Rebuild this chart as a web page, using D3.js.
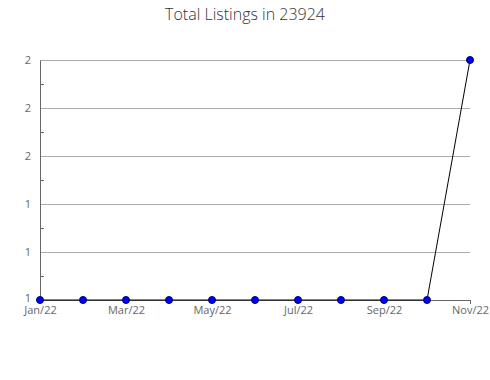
<!DOCTYPE html>
<html>
<head>
<meta charset="utf-8">
<script src="https://cdn.jsdelivr.net/npm/d3@7"></script>
<style>
  body { margin: 0; background: #fff; }
  text { font-family: "Open Sans", "DejaVu Sans", sans-serif; }
</style>
</head>
<body>
<div id="chart"></div>
<script>
// data
var months = ["Jan/22", "Feb/22", "Mar/22", "Apr/22", "May/22", "Jun/22",
              "Jul/22", "Aug/22", "Sep/22", "Oct/22", "Nov/22"];
var listings = [1, 1, 1, 1, 1, 1, 1, 1, 1, 1, 2];
var yTicks = [1, 1.2, 1.4, 1.6, 1.8, 2];

var svgWidth = 490, svgHeight = 380;
var margin = {top: 60, right: 20, bottom: 80, left: 40};
var width = svgWidth - margin.left - margin.right;
var height = svgHeight - margin.top - margin.bottom;

var svg = d3.select("#chart").append("svg")
    .attr("width", svgWidth)
    .attr("height", svgHeight);

svg.append("text")
    .attr("x", svgWidth / 2)
    .attr("y", 20)
    .attr("text-anchor", "middle")
    .attr("font-size", 16)
    .attr("font-weight", 300)
    .attr("fill", "#333")
    .text("Total Listings in 23924");

var chartGroup = svg.append("g")
    .attr("transform", `translate(${margin.left}, ${margin.top})`);

var x = d3.scalePoint()
    .domain(months)
    .range([0, width]);

var y = d3.scaleLinear()
    .domain([1, 2])
    .range([height, 0]);

// gridlines
chartGroup.append("g")
    .selectAll("line")
    .data(yTicks.slice(1))
    .enter()
    .append("line")
    .attr("x1", 0)
    .attr("x2", width)
    .attr("y1", d => Math.round(y(d)) + 0.5)
    .attr("y2", d => Math.round(y(d)) + 0.5)
    .attr("stroke", "#aaa")
    .attr("stroke-width", 1);

// minor ticks on y axis
var minor = d3.range(1.1, 2, 0.2);
chartGroup.append("g")
    .selectAll("line")
    .data(minor)
    .enter()
    .append("line")
    .attr("x1", 0)
    .attr("x2", 4)
    .attr("y1", d => Math.round(y(d)) + 0.5)
    .attr("y2", d => Math.round(y(d)) + 0.5)
    .attr("stroke", "#666");

// y axis
var leftAxis = d3.axisLeft(y)
    .tickValues(yTicks)
    .tickFormat(d3.format(".0f"))
    .tickSize(0)
    .tickPadding(9);
var yAxisG = chartGroup.append("g").call(leftAxis);
yAxisG.select(".domain").attr("stroke", "#666");
yAxisG.selectAll("text").attr("font-size", 11).attr("fill", "#666")
    .attr("dy", (d) => d === 1 ? "0.1em" : "0.32em");

// x axis
var bottomAxis = d3.axisBottom(x)
    .tickFormat((d, i) => i % 2 === 0 ? d : "")
    .tickSize(0)
    .tickPadding(6);
var xAxisG = chartGroup.append("g")
    .attr("transform", `translate(0, ${height})`)
    .call(bottomAxis);
xAxisG.select(".domain").attr("stroke", "#666");
xAxisG.selectAll("text").attr("font-size", 11).attr("fill", "#666");
xAxisG.append("line")
    .attr("x1", width + 0.5).attr("x2", width + 0.5)
    .attr("y1", 0).attr("y2", 4)
    .attr("stroke", "#666");

// line
var line = d3.line()
    .x((d, i) => x(months[i]))
    .y(d => y(d));

chartGroup.append("path")
    .datum(listings)
    .attr("fill", "none")
    .attr("stroke", "#000")
    .attr("stroke-width", 1)
    .attr("d", line);

// markers
chartGroup.selectAll("circle")
    .data(listings)
    .enter()
    .append("circle")
    .attr("cx", (d, i) => x(months[i]))
    .attr("cy", d => y(d))
    .attr("r", 3.5)
    .attr("fill", "#0000ff")
    .attr("stroke", "#000066")
    .attr("stroke-width", 1);
</script>
</body>
</html>
